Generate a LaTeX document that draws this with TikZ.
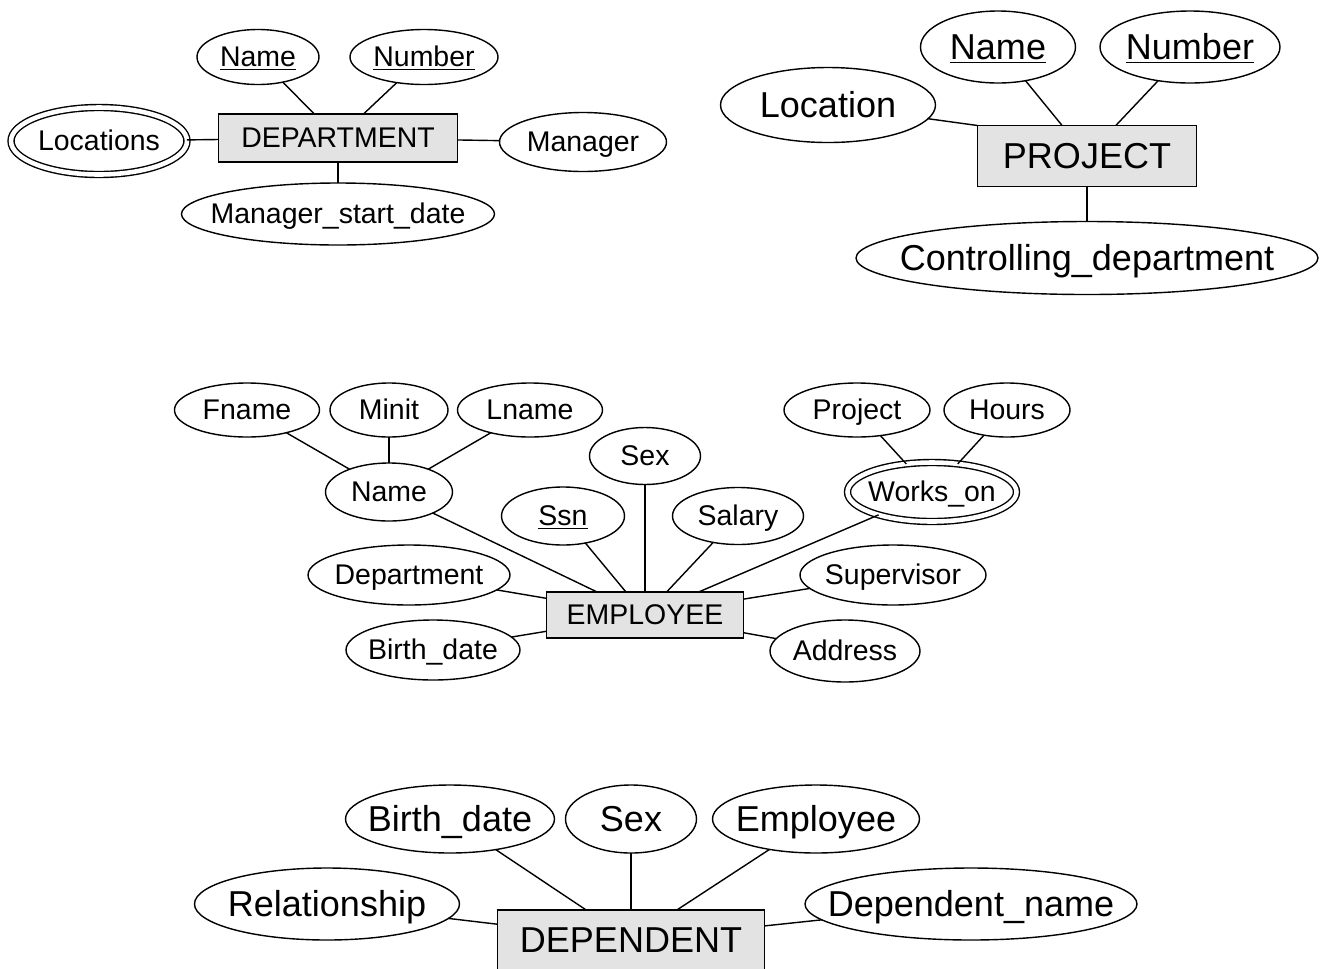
\documentclass[tikz,border=0pt]{standalone}
\usepackage{fontspec}
\setmainfont{Liberation Sans}
\usetikzlibrary{shapes.geometric}

\newcommand\attxt[1]{\smash{\makebox[0pt]{#1}}\vphantom{A}}

\tikzset{
  sz/.style 2 args={minimum width=#1*0.02cm, minimum height=#2*0.02cm},
  attr/.style={draw, ellipse, line width=0.8pt},
  multi/.style={attr, double, double distance=2.6pt},
  entity/.style={draw, rectangle, fill=black!11, line width=0.8pt},
  conn/.style={line width=0.8pt},
  small/.style={font=\fontsize{16.2}{19}\selectfont},
  large/.style={font=\fontsize{20.5}{24}\selectfont},
}

\begin{document}
\begin{tikzpicture}[x=0.02cm,y=-0.02cm]
\tikzstyle{every node}+=[inner sep=0pt,outer sep=0pt]
\clip (0,0) rectangle (1323,968);
\node [entity,small,sz={239}{48}] (dept) at (338,138) {\attxt{DEPARTMENT}};
\node [attr,small,sz={122}{55}] (dname) at (258,57) {\attxt{\underline{Name}}};
\node [attr,small,sz={148}{55}] (dnum) at (424,57) {\attxt{\underline{Number}}};
\node [multi,small,sz={176}{67}] (dloc) at (99,141) {\attxt{Locations}};
\node [attr,small,sz={167}{59}] (dmgr) at (583,142) {\attxt{Manager}};
\node [attr,small,sz={313}{62}] (dmsd) at (338,214) {\attxt{Manager\_start\_date}};
\draw [conn] (dname) -- (dept);
\draw [conn] (dnum) -- (dept);
\draw [conn] (dloc) -- (dept);
\draw [conn] (dept) -- (dmgr);
\draw [conn] (dept) -- (dmsd);
\node [entity,large,sz={219}{61}] (proj) at (1087,156) {\attxt{PROJECT}};
\node [attr,large,sz={155}{72}] (pname) at (998,47) {\attxt{\underline{Name}}};
\node [attr,large,sz={180}{72}] (pnum) at (1190,47) {\attxt{\underline{Number}}};
\node [attr,large,sz={215}{75}] (ploc) at (828,105) {\attxt{Location}};
\node [attr,large,sz={462}{73}] (pctl) at (1087,258) {\attxt{Controlling\_department}};
\draw [conn] (pname) -- (proj);
\draw [conn] (pnum) -- (proj);
\draw [conn] (ploc) -- (proj.north west);
\draw [conn] (proj) -- (pctl);
\node [entity,small,sz={197}{46}] (emp) at (645,615) {\attxt{EMPLOYEE}};
\node [attr,small,sz={145}{54}] (fname) at (247,410) {\attxt{Fname}};
\node [attr,small,sz={118}{54}] (minit) at (389,410) {\attxt{Minit}};
\node [attr,small,sz={145}{54}] (lname) at (530,410) {\attxt{Lname}};
\node [attr,small,sz={127}{58}] (ename) at (389,492) {\attxt{Name}};
\node [attr,small,sz={111}{57}] (esex) at (645,456) {\attxt{Sex}};
\node [attr,small,sz={123}{58}] (essn) at (563,516) {\attxt{\underline{Ssn}}};
\node [attr,small,sz={131}{57}] (esal) at (738,516) {\attxt{Salary}};
\node [attr,small,sz={146}{54}] (eproj) at (857,410) {\attxt{Project}};
\node [attr,small,sz={126}{54}] (ehrs) at (1007,410) {\attxt{Hours}};
\node [multi,small,sz={169}{59}] (works) at (932,492) {\attxt{Works\_on}};
\node [attr,small,sz={202}{60}] (edept) at (409,575) {\attxt{Department}};
\node [attr,small,sz={186}{60}] (esup) at (893,575) {\attxt{Supervisor}};
\node [attr,small,sz={174}{60}] (ebd) at (433,650) {\attxt{Birth\_date}};
\node [attr,small,sz={150}{62}] (eaddr) at (845,651) {\attxt{Address}};
\draw [conn] (fname) -- (ename);
\draw [conn] (minit) -- (ename);
\draw [conn] (lname) -- (ename);
\draw [conn] (ename) -- (emp);
\draw [conn] (essn) -- (emp);
\draw [conn] (esex) -- (emp);
\draw [conn] (esal) -- (emp);
\draw [conn] (works) -- (emp);
\draw [conn] (eproj) -- (works);
\draw [conn] (ehrs) -- (works);
\draw [conn] (edept) -- (emp);
\draw [conn] (ebd) -- (emp);
\draw [conn] (esup) -- (emp);
\draw [conn] (eaddr) -- (emp);
\node [entity,large,sz={267}{60}] (dep) at (631,940) {\attxt{DEPENDENT}};
\node [attr,large,sz={209}{68}] (dpbd) at (450,819) {\attxt{Birth\_date}};
\node [attr,large,sz={131}{68}] (dpsex) at (631,819) {\attxt{Sex}};
\node [attr,large,sz={207}{68}] (dpemp) at (816,819) {\attxt{Employee}};
\node [attr,large,sz={265}{72}] (dprel) at (327,904) {\attxt{Relationship}};
\node [attr,large,sz={332}{72}] (dpname) at (971,904) {\attxt{Dependent\_name}};
\draw [conn] (dpbd) -- (dep);
\draw [conn] (dpsex) -- (dep);
\draw [conn] (dpemp) -- (dep);
\draw [conn] (dprel) -- (dep);
\draw [conn] (dpname) -- (dep);
\end{tikzpicture}
\end{document}
